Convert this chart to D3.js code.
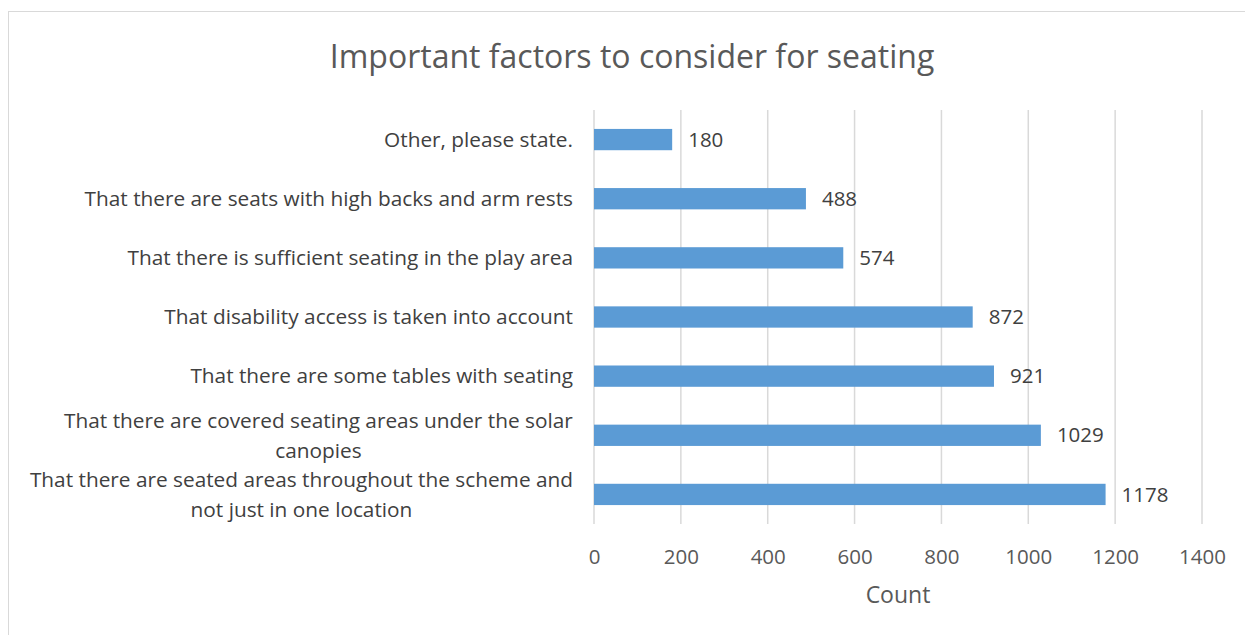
<!DOCTYPE html>
<html><head><meta charset="utf-8">
<script src="https://cdn.jsdelivr.net/npm/d3@7"></script>
<style>body{margin:0;background:#fff}svg{display:block;font-family:"Open Sans",sans-serif}</style>
</head><body><svg id="c" width="1245" height="635"></svg>
<script>
const categories = [
  ["Other, please state."],
  ["That there are seats with high backs and arm rests"],
  ["That there is sufficient seating in the play area"],
  ["That disability access is taken into account"],
  ["That there are some tables with seating"],
  ["That there are covered seating areas under the solar", "canopies"],
  ["That there are seated areas throughout the scheme and", "not just in one location"]
];
const values = [180, 488, 574, 872, 921, 1029, 1178];
const ticks = [0, 200, 400, 600, 800, 1000, 1200, 1400];
const title = "Important factors to consider for seating";
const axisTitle = "Count";

const svg = d3.select("#c");
svg.append("rect").attr("x", 8.5).attr("y", 11.5).attr("width", 1260).attr("height", 640)
  .attr("fill", "#fff").attr("stroke", "#d9d9d9").attr("stroke-width", 1);

const m = {left: 594, right: 1202, top: 110, bottom: 524};
const x = d3.scaleLinear().domain([0, 1400]).range([m.left, m.right]);
const y = d3.scaleBand().domain(d3.range(categories.length)).range([m.top, m.bottom]).paddingInner(0.64).paddingOuter(0.32);

const g = svg.append("g");
g.selectAll("line.grid").data(ticks).join("line").attr("class", "grid")
  .attr("x1", d => x(d)).attr("x2", d => x(d)).attr("y1", m.top).attr("y2", m.bottom)
  .attr("stroke", "#d9d9d9").attr("stroke-width", 1.5);

g.selectAll("rect.bar").data(values).join("rect").attr("class", "bar")
  .attr("x", x(0)).attr("y", (d, i) => y(i)).attr("width", d => x(d) - x(0)).attr("height", y.bandwidth())
  .attr("fill", "#5b9bd5");

g.selectAll("text.val").data(values).join("text").attr("class", "val")
  .attr("x", d => x(d) + 16).attr("y", (d, i) => y(i) + y.bandwidth() / 2).attr("dy", "0.35em")
  .attr("font-size", 20.5).attr("fill", "#404040").text(d => d);

const lh = 30;
categories.forEach((lines, i) => {
  const cy = y(i) + y.bandwidth() / 2;
  const t = g.append("text").attr("text-anchor", "middle").attr("font-size", 20.8).attr("fill", "#404040");
  lines.forEach((s, j) => {
    t.append("tspan").attr("x", 0).attr("y", cy + (j - (lines.length - 1) / 2) * lh).attr("dy", "0.35em").text(s);
  });
  const bb = t.node().getBBox();
  t.selectAll("tspan").attr("x", 573 - bb.width / 2);
});

const ax = g.append("g").attr("transform", `translate(0,${m.bottom + 33})`)
  .call(d3.axisBottom(x).tickValues(ticks).tickFormat(d3.format("d")).tickSize(0).tickPadding(0));
ax.select(".domain").remove();
ax.selectAll("text").attr("font-size", 20.5).attr("fill", "#595959").attr("font-family", "Open Sans").attr("dy", "0.35em");

svg.append("text").attr("x", (m.left + m.right) / 2).attr("y", 595).attr("dy", "0.35em")
  .attr("text-anchor", "middle").attr("font-size", 23).attr("fill", "#595959").text(axisTitle);

svg.append("text").attr("x", 632).attr("y", 57).attr("dy", "0.35em")
  .attr("text-anchor", "middle").attr("font-size", 32).attr("fill", "#595959").text(title);
</script></body></html>
